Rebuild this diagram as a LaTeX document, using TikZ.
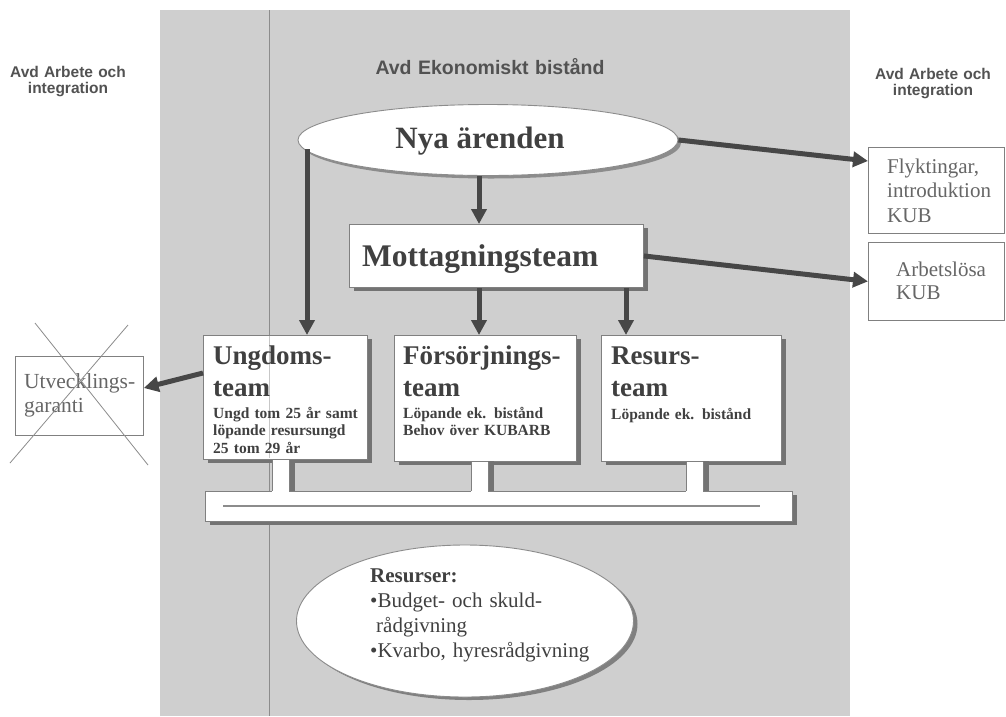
\documentclass[tikz,border=0pt]{standalone}
\usepackage{fontspec}
\setmainfont{Liberation Serif}
\newfontfamily\arialfont{Liberation Sans}
\usetikzlibrary{arrows.meta,shapes.geometric,shadows}
\tikzset{
  box/.style={rectangle, draw=black!50, line width=0.9pt, fill=white, inner sep=0pt, anchor=north west},
  boxshadow/.style={drop shadow={shadow xshift=5pt, shadow yshift=-4pt, fill=black!55, opacity=1}},
  oval/.style={ellipse, draw=black!45, line width=0.9pt, fill=white, inner sep=0pt},
  ovalshadow/.style={drop shadow={shadow xshift=3pt, shadow yshift=-3pt, fill=black!45, opacity=1}},
  rbox/.style={rectangle, draw=black!50, line width=0.8pt, fill=white, inner sep=0pt, anchor=north west},
  bigt/.style={font=\fontsize{31}{34}\selectfont\bfseries, text=black!75, inner sep=0pt},
  ttl/.style={font=\fontsize{27}{32}\selectfont\bfseries, text=black!75, inner sep=0pt, align=left, text width=175pt, anchor=base west},
  dsc/.style={font=\fontsize{15.5}{17.5}\selectfont\bfseries, text=black!75, inner sep=0pt, align=left, text width=175pt, anchor=base west},
  rtxt/.style={font=\fontsize{21}{24.5}\selectfont, text=black!60, inner sep=0pt, align=left, text width=125pt, anchor=base west},
  restxt/.style={font=\fontsize{21}{25}\selectfont, text=black!75, inner sep=0pt, align=left, text width=250pt, anchor=base west},
  dept/.style={font=\arialfont\bfseries\fontsize{15.5}{17}\selectfont, text=black!68, inner sep=0pt, align=center, text width=160pt, anchor=base},
  arr/.style={line width=5pt, draw=black!72, -{Triangle[length=15pt,width=15pt]}},
  cross/.style={draw=black!45, line width=0.8pt},
  stemside/.style={draw=black!50, line width=0.8pt},
}
\begin{document}
\begin{tikzpicture}[x=1pt,y=-1pt]
\useasboundingbox (0,0) rectangle (1006,716);
\fill[white] (0,0) rectangle (1006,716);
% grey department area
\fill[black!19] (160,10) rectangle (850,716);
\draw[black!45, line width=0.7pt] (269,10) -- (269,716);

% department labels
\node[dept] (lefthead) at (68,77) {Avd Arbete och\\[-1pt]integration};
\node[dept] (righthead) at (933,79) {Avd Arbete och\\[-1pt]integration};
\node[dept, font=\arialfont\bfseries\fontsize{19.5}{22}\selectfont, text width=300pt] (midhead) at (490,74) {Avd Ekonomiskt bistånd};

% bar
\node[box, boxshadow, minimum width=587pt, minimum height=30pt] (bar) at (205,491) {};
\draw[black!45, line width=1.4pt] (223,506) -- (760,506);

% main boxes
\node[oval, ovalshadow, minimum width=380pt, minimum height=71pt] (nya) at (488,140) {};
\node[bigt, anchor=base] (nyatxt) at (480,148) {Nya ärenden};

\node[box, boxshadow, minimum width=294pt, minimum height=63pt] (mott) at (349,224) {};
\node[bigt, anchor=base west, font=\fontsize{31.5}{34}\selectfont\bfseries] (motttxt) at (362,266) {Mottagningsteam};

\node[box, boxshadow, minimum width=164pt, minimum height=124pt] (ungd) at (203,335) {};
\node[box, boxshadow, minimum width=182pt, minimum height=126pt] (fors) at (394,335) {};
\node[box, boxshadow, minimum width=180pt, minimum height=126pt] (res) at (601,335) {};
\draw[black!22, line width=0.6pt] (269,336) -- (269,458);

\node[ttl] (ungdt) at (213,364) {Ungdoms-\\team};
\node[dsc] (ungdd) at (213,418) {Ungd tom 25 år samt\\löpande resursungd\\25 tom 29 år};
\node[ttl] (forst) at (403,364) {Försörjnings-\\team};
\node[dsc] (forsd) at (403,418) {Löpande ek. bistånd\\Behov över KUBARB};
\node[ttl] (rest) at (611,364) {Resurs-\\team};
\node[dsc] (resd) at (611,419) {Löpande ek. bistånd};

% stems to the bar
\fill[black!55] (289,460) rectangle (295,491);
\fill[white] (272,459.6) rectangle (289,491.8);
\draw[stemside] (272,459.6) -- (272,491) (289,459.6) -- (289,491);
\fill[black!55] (488,461) rectangle (494,491);
\fill[white] (471,461.6) rectangle (488,491.8);
\draw[stemside] (471,461.6) -- (471,491) (488,461.6) -- (488,491);
\fill[black!55] (703,461) rectangle (709,491);
\fill[white] (686,461.6) rectangle (703,491.8);
\draw[stemside] (686,461.6) -- (686,491) (703,461.6) -- (703,491);

% right boxes
\node[rbox, minimum width=136pt, minimum height=86pt] (flykt) at (868,147) {};
\node[rtxt] (flykttxt) at (887,173) {Flyktingar,\\introduktion\\KUB};
\node[rbox, minimum width=136pt, minimum height=78pt] (arb) at (868,242) {};
\node[rtxt, font=\fontsize{21}{23.5}\selectfont] (arbtxt) at (896,276) {Arbetslösa\\KUB};

% left crossed box
\node[rbox, minimum width=128pt, minimum height=79pt] (utv) at (15,356) {};
\node[rtxt, font=\fontsize{21.5}{24}\selectfont] (utvtxt) at (24,388) {Utvecklings-\\garanti};
\draw[cross] (35,323) -- (148,465);
\draw[cross] (128,325) -- (10,463);

% resources ellipse
\node[oval, drop shadow={shadow xshift=4pt, shadow yshift=-3pt, fill=black!50, opacity=1}, minimum width=337pt, minimum height=152pt] (resurser) at (465,621) {};
\node[restxt] (restxt) at (370,582) {\textbf{Resurser:}\\•Budget- och skuld-\\\hspace*{6pt}rådgivning\\•Kvarbo, hyresrådgivning};

% arrows
\coordinate (nyaL) at (307,149);
\draw[arr] (nyaL) -- (nyaL |- ungd.north);
\draw[arr] (nya.south -| 479,0) -- (mott.north -| 479,0);
\draw[arr] (mott.south -| 479,0) -- (fors.north -| 479,0);
\draw[arr] (mott.south -| 626,0) -- (res.north -| 626,0);
\draw[arr] (nya.east) -- (flykt.west |- 0,161);
\draw[arr] (mott.east) -- (arb.west);
\draw[arr] (ungd.west |- 0,373) -- (utv.east |- 0,388);
\end{tikzpicture}
\end{document}
